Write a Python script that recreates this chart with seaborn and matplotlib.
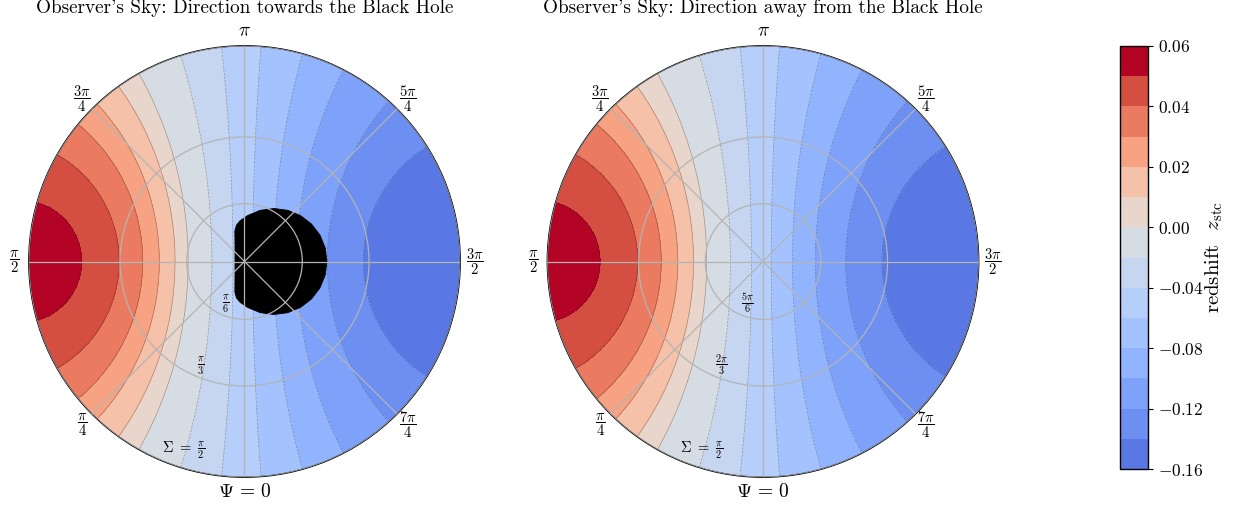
import numpy as np
import matplotlib
matplotlib.use("Agg")
import matplotlib.pyplot as plt
import matplotlib.colors as mcolors
import seaborn as sns

# ---------------- data ----------------
# filled-contour levels of the redshift z_stc
levels = [-0.16, -0.14, -0.12, -0.10, -0.08, -0.06, -0.04, -0.02,
          0.00, 0.01, 0.02, 0.03, 0.04, 0.05, 0.06]
colorbar_ticks = [-0.16, -0.12, -0.08, -0.04, 0.00, 0.02, 0.04, 0.06]

# redshift profile versus angular distance (deg) from the direction of
# motion (rim point Psi = pi/2), read from where each contour crosses
profile_angle_deg = [0.0, 15.9, 29.7, 39.5, 46.9, 54.3, 60.7, 72.8,
                     83.9, 94.4, 105.6, 117.3, 132.0, 147.7, 180.0]
profile_z = [0.056, 0.05, 0.04, 0.03, 0.02, 0.01, 0.00, -0.02,
             -0.04, -0.06, -0.08, -0.10, -0.12, -0.14, -0.155]

# black-hole shadow outline on the observer's sky (Psi, Sigma in degrees)
shadow_psi_deg = [90.0, 150.1, 162.5, 167.5, 173.58, 183.74, 197.13,
                  209.1, 220.18, 230.66, 240.77, 250.63, 260.35, 270.0,
                  279.65, 289.37, 299.23, 309.34, 319.82, 330.9, 342.87,
                  356.26, 366.42, 372.5, 377.5, 389.9]
shadow_sigma_deg = [5.04, 10.09, 16.9, 19.6, 21.45, 24.08, 27.89,
                    31.41, 34.51, 37.12, 39.17, 40.66, 41.55, 41.86,
                    41.55, 40.66, 39.17, 37.12, 34.51, 31.41, 27.89,
                    24.08, 21.45, 19.6, 16.9, 10.09]

theta_tick_deg = [0, 45, 90, 135, 180, 225, 270, 315]
theta_tick_labels = [r"$\Psi\,=\,0$", r"$\dfrac{\pi}{4}$", r"$\dfrac{\pi}{2}$",
                     r"$\dfrac{3\pi}{4}$", r"$\pi$", r"$\dfrac{5\pi}{4}$",
                     r"$\dfrac{3\pi}{2}$", r"$\dfrac{7\pi}{4}$"]

left_sigma_ticks = [np.pi / 6, np.pi / 3, np.pi / 2]
left_sigma_labels = [r"$\frac{\pi}{6}$", r"$\frac{\pi}{3}$", r"$\Sigma\ =\ \frac{\pi}{2}$"]
right_sigma_ticks = [5 * np.pi / 6, 2 * np.pi / 3, np.pi / 2]
right_sigma_labels = [r"$\frac{5\pi}{6}$", r"$\frac{2\pi}{3}$", r"$\Sigma\ =\ \frac{\pi}{2}$"]

titles = ["Observer's Sky: Direction towards the Black Hole",
          "Observer's Sky: Direction away from the Black Hole"]

# ---------------- styling ----------------
sns.set_theme(style="white")
plt.rcParams.update({
    "font.family": "serif",
    "font.serif": ["cmr10"],
    "mathtext.fontset": "cm",
    "axes.formatter.use_mathtext": True,
    "axes.unicode_minus": True,
    "axes.edgecolor": "black",
    "axes.linewidth": 1.0,
    "axes.axisbelow": "line",
    "text.color": "black",
    "axes.labelcolor": "black",
    "xtick.color": "black",
    "ytick.color": "black",
    "ytick.right": True,
    "ytick.major.size": 3.5,
    "ytick.major.width": 0.8,
})

cmap = sns.color_palette("coolwarm", as_cmap=True)
norm = mcolors.TwoSlopeNorm(vmin=-0.19, vcenter=0.0, vmax=0.055)

W, H = 1238, 512
fig = plt.figure(figsize=(W / 100, H / 100), dpi=100)

psi = np.linspace(0, 2 * np.pi, 721)


def panel(rect, towards, sig_ticks, sig_labels, title):
    ax = fig.add_axes(rect, projection="polar")
    ax.set_axisbelow(False)
    ax.set_theta_zero_location("S")
    ax.set_theta_direction(-1)
    if towards:
        sig = np.linspace(0, np.pi / 2, 301)
    else:
        sig = np.linspace(np.pi / 2, np.pi, 301)
    P, S = np.meshgrid(psi, sig)
    gamma = np.degrees(np.arccos(np.clip(np.sin(S) * np.sin(P), -1, 1)))
    Z = np.interp(gamma, profile_angle_deg, profile_z)

    def proj(s):
        s = np.asarray(s)
        return np.tan(s / 2) if towards else np.tan((np.pi - s) / 2)

    Rr = proj(S)
    cf = ax.contourf(P, Rr, Z, levels=levels, cmap=cmap, norm=norm, zorder=1)
    ax.contour(P, Rr, Z, levels=levels, colors="k", linewidths=0.5,
               alpha=0.35, zorder=1.1)
    if towards:
        sp = np.radians(shadow_psi_deg)
        ss = np.radians(shadow_sigma_deg)
        ax.fill(sp, proj(ss), color="black", lw=0.6, ec="black", zorder=1.2)
    ax.set_rlim(0, 1)
    ax.set_thetagrids(theta_tick_deg, theta_tick_labels)
    for lbl, txt in zip(ax.get_xticklabels(), theta_tick_labels):
        lbl.set_fontsize(10.5 if "frac" in txt else 14)
    ax.tick_params(axis="x", length=0, pad=3.5)
    ax.set_rgrids(proj(sig_ticks), labels=sig_labels, angle=22.5, fontsize=10.5)
    ax.tick_params(axis="y", length=0)
    ax.grid(True, color="#b4b4b4", linewidth=0.9)
    ax.spines["polar"].set_color("black")
    ax.spines["polar"].set_linewidth(1.0)
    ax.set_title(title, fontsize=13.8, y=1.076, pad=0)
    return cf


cf = panel([28.8 / W, (H - 261.5 - 215.7) / H, 431.4 / W, 431.4 / H],
           True, left_sigma_ticks, left_sigma_labels, titles[0])
panel([546.7 / W, (H - 261.5 - 215.7) / H, 432.6 / W, 431.4 / H],
      False, right_sigma_ticks, right_sigma_labels, titles[1])

cax = fig.add_axes([1120 / W, (H - 469) / H, 28 / W, 423 / H])
cb = fig.colorbar(cf, cax=cax, ticks=colorbar_ticks)
cb.ax.set_yticklabels([f"${v:.2f}$" for v in colorbar_ticks])
cb.ax.tick_params(labelsize=12.5, direction="out", length=3.5)
cb.outline.set_linewidth(1.0)
cb.set_label(r"redshift  $z_{\rm stc}$", fontsize=15, labelpad=0)

fig.savefig("out.png", dpi=100)
